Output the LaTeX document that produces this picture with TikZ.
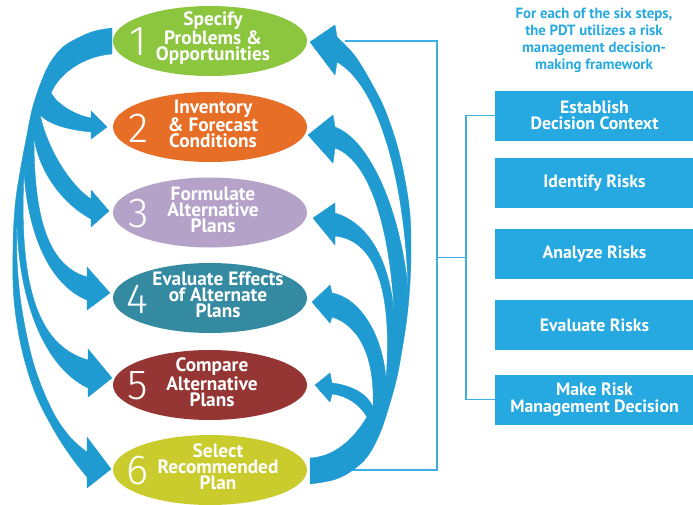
\documentclass[tikz,border=0pt]{standalone}
\usepackage{fontspec}
\setmainfont{PT Sans}
\IfFontExistsTF{Fira Sans Light}{\newfontfamily\numfont{Fira Sans Light}}{\newfontfamily\numfont{Open Sans}}
\usetikzlibrary{shapes.geometric,calc}
\definecolor{eA}{RGB}{140,198,63}
\definecolor{eB}{RGB}{230,110,38}
\definecolor{eC}{RGB}{180,162,200}
\definecolor{eD}{RGB}{52,138,160}
\definecolor{eE}{RGB}{150,54,52}
\definecolor{eF}{RGB}{202,203,44}
\definecolor{arrowblue}{RGB}{32,155,210}
\definecolor{boxblue}{RGB}{38,168,224}
\definecolor{lineblue}{RGB}{60,175,230}
\definecolor{topblue}{RGB}{40,170,225}
\tikzset{
  arr/.style={fill=arrowblue, draw=arrowblue, line width=0.4pt, line join=round},
  elps/.style={ellipse, minimum width=194pt, minimum height=70pt, inner sep=0pt},
  lbl/.style={text=white, font=\fontsize{19.3}{16}\selectfont\bfseries, align=center, inner sep=0pt},
  num/.style={text=white, font=\fontsize{42}{42}\selectfont\numfont, inner sep=0pt},
  rbox/.style={fill=boxblue, minimum width=199pt, minimum height=50pt, inner sep=0pt, text=white, font=\fontsize{17.8}{16.5}\selectfont\bfseries, align=center},
  toptext/.style={text=topblue, font=\fontsize{14.8}{17}\selectfont\bfseries, align=center, inner sep=0pt},
  bline/.style={draw=lineblue, line width=1.5pt},
}
\begin{document}
\begin{tikzpicture}[x=1pt,y=-1pt]
\useasboundingbox (0,0) rectangle (693,504);
\fill[white] (0,0) rectangle (693,504);

% bracket lines
\coordinate (lt) at (345,41);
\coordinate (ltr) at (437,41);
\coordinate (lbr) at (437,470);
\coordinate (lb) at (345,470);
\coordinate (lm) at (437,257.5);
\coordinate (rm) at (466,257.5);

% right boxes
\node[rbox] (b1) at (594.5,115.5) {Establish\\Decision Context};
\node[rbox] (b2) at (594.5,182.5) {Identify Risks};
\node[rbox] (b3) at (594.5,253.5) {Analyze Risks};
\node[rbox] (b4) at (594.5,325) {Evaluate Risks};
\node[rbox] (b5) at (594.5,399.5) {Make Risk\\Management Decision};

\draw[bline] (lt) -- (ltr) -- (lbr) -- (lb);
\draw[bline] (lm) -- (rm);
\draw[bline] (b1.west) -| (rm) |- (b5.west);

\node[toptext] (hd) at (594,40) {For each of the six steps,\\the PDT utilizes a risk\\management decision-\\making framework};

% ellipses
\node[elps, fill=eA] (e1) at (210,41) {};
\node[elps, fill=eB] (e2) at (210,127) {};
\node[elps, fill=eC] (e3) at (210,212.5) {};
\node[elps, fill=eD] (e4) at (210,298) {};
\node[elps, fill=eE] (e5) at (210,385) {};
\node[elps, fill=eF] (e6) at (210,470) {};

\node[num] (n1) at ($(e1.center)+(-72,1)$) {1};
\node[num] (n2) at ($(e2.center)+(-71,1)$) {2};
\node[num] (n3) at ($(e3.center)+(-71,1)$) {3};
\node[num] (n4) at ($(e4.center)+(-72.5,1)$) {4};
\node[num] (n5) at ($(e5.center)+(-72.5,1)$) {5};
\node[num] (n6) at ($(e6.center)+(-72.5,1)$) {6};

\node[lbl] (t1) at ($(e1.center)+(3,-3)$) {Specify\\Problems \&\\Opportunities};
\node[lbl] (t2) at ($(e2.center)+(3,-3)$) {Inventory\\\& Forecast\\Conditions};
\node[lbl] (t3) at ($(e3.center)+(3,-3)$) {Formulate\\Alternative\\Plans};
\node[lbl] (t4) at ($(e4.center)+(8,-3)$) {Evaluate Effects\\of Alternate\\Plans};
\node[lbl] (t5) at ($(e5.center)+(2,-3)$) {Compare\\Alternative\\Plans};
\node[lbl] (t6) at ($(e6.center)+(8,-3)$) {Select\\Recommended\\Plan};

% left arrows: trunk (to step 6)
\fill[arr] (112,54) -- (112,28) -- plot[smooth, tension=0.6] coordinates {(112,28) (95,31) (80,37) (63,47) (50,63) (40,85) (32,110) (26,140) (20,172) (15,207) (13,250) (14,300) (22,350) (36,395) (55,432) (72,458) (87,477)} -- (87,488) -- (111,469) -- (87,437) -- (87,452) -- plot[smooth, tension=0.6] coordinates {(87,452) (70,437) (52,410) (34,365) (22,310) (17,260) (17,217)} -- (24,172) -- (34,138) -- (40,115) -- (51,93) .. controls (60,72) and (85,56) .. (112,54) -- cycle;
% to step 2
\fill[arr] (51,93) .. controls (58,105) and (75,115) .. (91,118) -- (91,111) -- (107,127) -- (91,139) -- (91,132) .. controls (70,130) and (50,125) .. (40,115) -- cycle;
% to step 3
\fill[arr] (40,115) .. controls (48,150) and (70,185) .. (91,199) -- (91,190) -- (109,211) -- (91,227) -- (91,219) .. controls (65,205) and (40,175) .. (34,138) -- cycle;
% to step 4
\fill[arr] (34,138) .. controls (34,210) and (45,265) .. (87,277) -- (87,267) -- (110,293) -- (87,310) -- (87,300) .. controls (50,285) and (28,235) .. (24,172) -- cycle;
% to step 5
\fill[arr] (24,172) .. controls (19,280) and (35,345) .. (88,360) -- (88,349) -- (112,378) -- (88,397) -- (88,388) .. controls (40,365) and (17,290) .. (17,217) -- cycle;

% right arrows: trunk (to step 1)
\fill[arr] (310,458) -- (310,484) -- plot[smooth, tension=0.6] coordinates {(310,484) (333,480) (350,472) (367,457) (380,433) (390,403) (397,377) (402,350) (407,317) (410,283) (411,250) (410,215) (405,180) (397,145) (385,110) (372,84) (355,56) (337,37)} -- (335,25) -- (310,42) -- (335,75) -- (337,62) .. controls (378,85) and (405,180) .. (408,288) -- (395,346) -- (386,380) -- (373,407) -- (367,417) .. controls (350,445) and (330,457) .. (310,458) -- cycle;
% to step 2
\fill[arr] (408,288) .. controls (400,210) and (370,140) .. (335,127) -- (333,115) -- (308,135) -- (333,163) -- (335,148) .. controls (375,162) and (395,250) .. (395,346) -- cycle;
% to step 3
\fill[arr] (395,346) .. controls (397,275) and (375,225) .. (335,213) -- (335,203) -- (313,218) -- (335,245) -- (335,236) .. controls (375,240) and (393,290) .. (386,380) -- cycle;
% to step 4
\fill[arr] (386,380) .. controls (383,335) and (360,298) .. (332,293) -- (330,285) -- (312,302) -- (330,323) -- (332,317) .. controls (358,325) and (375,355) .. (373,407) -- cycle;
% to step 5
\fill[arr] (373,407) .. controls (367,393) and (350,385) .. (332,383) -- (330,373) -- (315,385) -- (330,402) -- (332,394) .. controls (348,396) and (360,405) .. (367,417) -- cycle;
\end{tikzpicture}
\end{document}
